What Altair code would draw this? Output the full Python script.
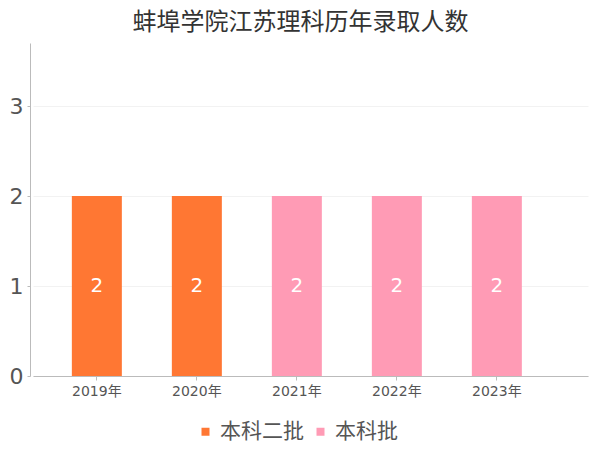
import altair as alt
import pandas as pd

years = ["2019年", "2020年", "2021年", "2022年", "2023年"]
batches = ["本科二批", "本科二批", "本科批", "本科批", "本科批"]
counts = [2, 2, 2, 2, 2]
batch_order = ["本科二批", "本科批"]
batch_colors = ["#FF7733", "#FF9BB5"]

df = pd.DataFrame({"year": years, "batch": batches, "count": counts})
FONT = "DejaVu Sans, Noto Sans CJK SC"

base = alt.Chart(df).encode(
    x=alt.X("year:N", sort=years, title=None,
            scale=alt.Scale(paddingInner=0.5, paddingOuter=0.525, align=0.37),
            axis=alt.Axis(labelAngle=0, labelFontSize=14, labelColor="#555",
                          domainColor="#bbb", tickColor="#bbb", tickSize=4,
                          labelPadding=4, grid=False)),
)

bars = base.mark_bar().encode(
    y=alt.Y("count:Q", title=None,
            scale=alt.Scale(domain=[0, 3.7], nice=False),
            axis=alt.Axis(values=[0, 1, 2, 3], format="d", labelFontSize=22, labelColor="#555",
                          domainColor="#bbb", tickColor="#bbb", tickSize=3,
                          gridColor="#f2f2f2", offset=3, labelPadding=4)),
    color=alt.Color("batch:N", sort=batch_order,
                    scale=alt.Scale(domain=batch_order, range=batch_colors),
                    legend=alt.Legend(title=None, orient="none", direction="horizontal",
                                      legendX=162, legendY=378, symbolType="square",
                                      symbolSize=64, labelFontSize=21, labelColor="#555",
                                      columnPadding=6, labelOffset=4, symbolStrokeWidth=0)),
)

labels = base.mark_text(color="white", fontSize=20, font=FONT).encode(
    y=alt.Y("mid:Q"),
    text=alt.Text("count:Q"),
).transform_calculate(mid="datum.count / 2")

chart = (bars + labels).properties(
    width=555, height=333,
    padding={"left": 25, "top": 35, "right": 4, "bottom": 72},
    autosize=alt.AutoSizeParams(type="none"),
    title=alt.Title("蚌埠学院江苏理科历年录取人数", fontSize=24, color="#333",
                    font=FONT, fontWeight="normal", offset=8, dx=-10),
).configure(font=FONT).configure_view(stroke=None)

chart.save("out.html", embed_options={"renderer": "svg", "actions": False})
